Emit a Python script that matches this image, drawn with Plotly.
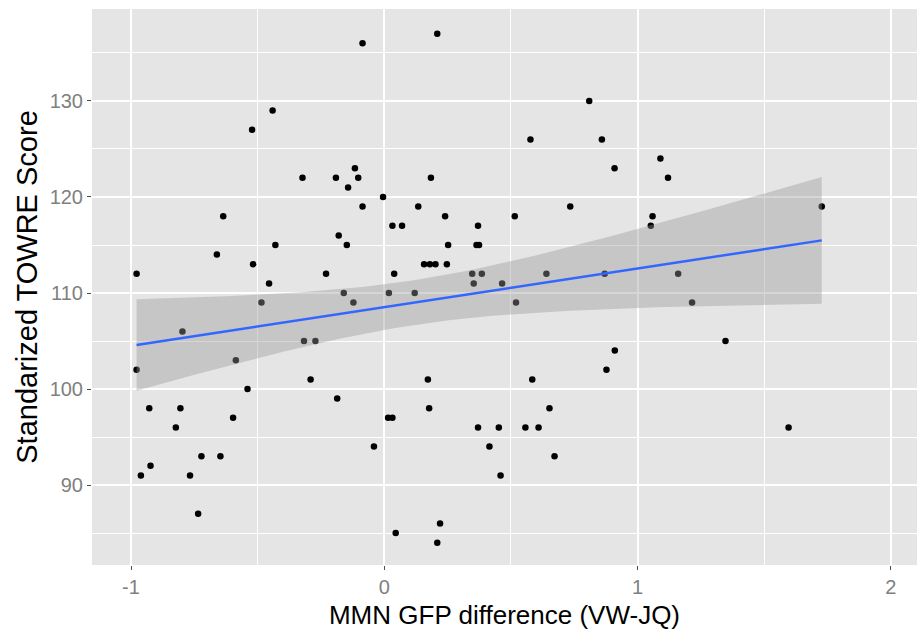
import numpy as np
import plotly.graph_objects as go

# MMN GFP difference (VW-JQ) for each participant
gfp_diff = [
    -0.086, -0.441, -0.522, -0.323, -0.191, -0.116, -0.103, -0.143, -0.005, -0.086,
    -0.636, -0.180, -0.430, -0.148, -0.661, -0.518, -0.978, -0.230, -0.455, -0.160,
    0.018, 0.209, 0.809, 0.577, 0.859, 0.184, 0.909, 1.090, 1.120, 0.134,
    0.734, 0.240, 0.515, 1.059, 1.052, 0.032, 0.070, 0.370, 0.252, 0.364,
    0.374, 0.157, 0.180, 0.202, 0.247, 0.039, 0.347, 0.385, 0.640, 0.870,
    1.160, 0.353, 0.465, 0.120, 0.520, 1.727, 1.215, -0.485, -0.122, -0.797,
    -0.317, -0.272, -0.978, -0.586, -0.291, -0.540, -0.186, -0.928, -0.805, -0.597,
    0.015, 0.032, -0.823, -0.041, -0.722, -0.647, -0.923, -0.961, -0.767, -0.735,
    0.910, 0.877, 0.172, 0.584, 0.177, 0.652, 0.370, 0.452, 0.557, 0.609,
    0.415, 0.672, 0.459, 0.220, 0.045, 0.209, 1.347, 1.596,
]

# Standardized TOWRE score for the same participants
towre = [
    136, 129, 127, 122, 122, 123, 122, 121, 120, 119,
    118, 116, 115, 115, 114, 113, 112, 112, 111, 110,
    110, 137, 130, 126, 126, 122, 123, 124, 122, 119,
    119, 118, 118, 118, 117, 117, 117, 117, 115, 115,
    115, 113, 113, 113, 113, 112, 112, 112, 112, 112,
    112, 111, 111, 110, 109, 119, 109, 109, 109, 106,
    105, 105, 102, 103, 101, 100, 99, 98, 98, 97,
    97, 97, 96, 94, 93, 93, 92, 91, 91, 87,
    104, 102, 101, 101, 98, 98, 96, 96, 96, 96,
    94, 93, 91, 86, 85, 84, 105, 96,
]

x_ticks = [-1, 0, 1, 2]
y_ticks = [90, 100, 110, 120, 130]

# Linear fit with 95% confidence band (as geom_smooth(method = "lm"))
x = np.asarray(gfp_diff, dtype=float)
y = np.asarray(towre, dtype=float)
n = len(x)
slope, intercept = np.polyfit(x, y, 1)
resid = y - (intercept + slope * x)
s = np.sqrt(np.sum(resid ** 2) / (n - 2))
x_mean = x.mean()
sxx = np.sum((x - x_mean) ** 2)
t_crit = 1.985  # t(0.975, df = n - 2)
xs = np.linspace(x.min(), x.max(), 80)
fit = intercept + slope * xs
se = s * np.sqrt(1.0 / n + (xs - x_mean) ** 2 / sxx)
upper = fit + t_crit * se
lower = fit - t_crit * se

fig = go.Figure()

fig.add_trace(go.Scatter(
    x=gfp_diff, y=towre, mode="markers",
    marker=dict(color="black", size=6.5, line=dict(width=0)),
    hoverinfo="x+y", showlegend=False,
))

fig.add_trace(go.Scatter(
    x=np.concatenate([xs, xs[::-1]]),
    y=np.concatenate([upper, lower[::-1]]),
    fill="toself", fillcolor="rgba(153,153,153,0.4)",
    line=dict(width=0), mode="lines", hoverinfo="skip", showlegend=False,
))

fig.add_trace(go.Scatter(
    x=xs, y=fit, mode="lines",
    line=dict(color="#3366FF", width=2.5),
    hoverinfo="skip", showlegend=False,
))

axis_common = dict(
    showgrid=True, gridcolor="white", gridwidth=1.6,
    zeroline=False, showline=False,
    ticks="outside", ticklen=4, tickwidth=1, tickcolor="#4D4D4D",
    tickfont=dict(family="Liberation Sans, Arial", size=20, color="#7F7F7F"),
)

fig.update_layout(
    width=917, height=639,
    margin=dict(l=92, r=0, t=9, b=74),
    paper_bgcolor="white", plot_bgcolor="#E5E5E5",
    font=dict(family="Liberation Sans, Arial"),
    xaxis=dict(
        **axis_common,
        range=[-1.154, 2.103], tickvals=x_ticks,
        ticktext=[str(v) for v in x_ticks],
        minor=dict(dtick=0.5, tick0=-1.5, showgrid=True, gridcolor="white",
                   gridwidth=0.8, ticks=""),
        title=dict(text="MMN GFP difference (VW-JQ)", standoff=8,
                   font=dict(family="Liberation Sans, Arial", size=26, color="black")),
    ),
    yaxis=dict(
        **axis_common,
        range=[81.67, 139.58], tickvals=y_ticks,
        ticktext=[str(v) for v in y_ticks],
        minor=dict(dtick=5, tick0=85, showgrid=True, gridcolor="white",
                   gridwidth=0.8, ticks=""),
        title=dict(text="Standarized TOWRE Score", standoff=3,
                   font=dict(family="Liberation Sans, Arial", size=29, color="black")),
    ),
)

fig.write_html("out.html")
